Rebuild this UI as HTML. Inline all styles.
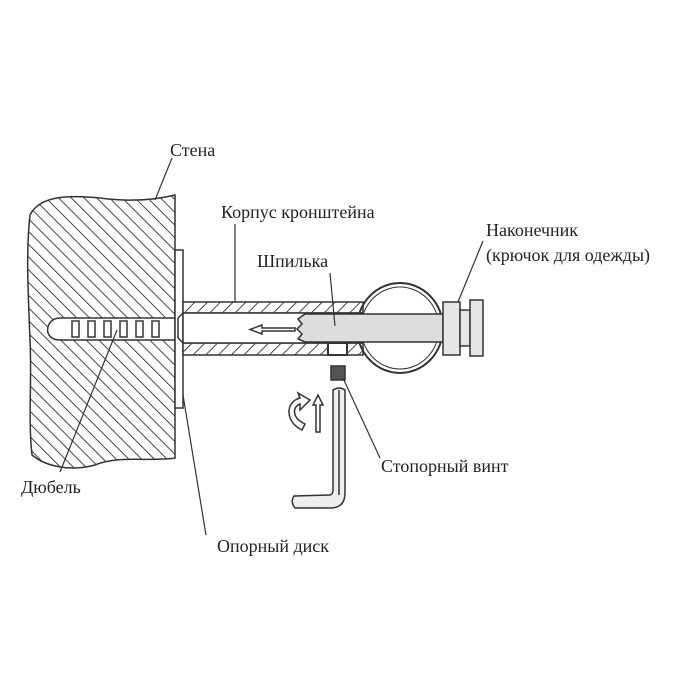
<!DOCTYPE html>
<html><head><meta charset="utf-8"><style>
html,body{margin:0;padding:0;background:#fff;}
svg{display:block;}
text{font-family:"Liberation Serif",serif;font-size:18px;fill:#222;}
</style></head><body>
<svg width="700" height="700" viewBox="0 0 700 700" xmlns="http://www.w3.org/2000/svg">
<defs>
<pattern id="h1" patternUnits="userSpaceOnUse" width="9" height="9" patternTransform="rotate(-45)">
<rect width="9" height="9" fill="#fff"/><line x1="0" y1="0" x2="0" y2="9" stroke="#333" stroke-width="1.8"/>
</pattern>
<pattern id="h2" patternUnits="userSpaceOnUse" width="9" height="9" patternTransform="rotate(45)">
<rect width="9" height="9" fill="#fff"/><line x1="0" y1="0" x2="0" y2="9" stroke="#333" stroke-width="1.8"/>
</pattern>
</defs>
<g stroke="#333" stroke-width="1.5" fill="none">
<path d="M175,195 L175,458 C150,462 120,455 95,465 C70,472 45,466 32,455 C28,420 32,380 30,340 C28,290 26,250 30,215 C40,195 70,195 100,198 C130,202 155,200 175,195 Z" fill="url(#h1)"/>
<path d="M175,318 L60,318 C45,318 42,340 60,340 L175,340 Z" fill="#fff"/>
<g fill="#fff">
<rect x="72" y="321" width="7" height="16"/><rect x="88" y="321" width="7" height="16"/><rect x="104" y="321" width="7" height="16"/>
<rect x="120" y="321" width="7" height="16"/><rect x="136" y="321" width="7" height="16"/><rect x="152" y="321" width="7" height="16"/>
</g>
<rect x="175" y="250" width="8" height="158" fill="#fff"/>
<rect x="183" y="302" width="180" height="11" fill="url(#h2)"/>
<rect x="183" y="343" width="180" height="12" fill="url(#h2)"/>
<rect x="183" y="313" width="180" height="30" fill="#fff"/>
<path d="M183,313 L178,318 L178,338 L183,343" />
<rect x="328" y="343" width="19" height="12" fill="#fff" stroke-width="2"/>
<ellipse cx="400" cy="328" rx="43" ry="45" fill="none" stroke-width="2"/>
<ellipse cx="400" cy="328" rx="39" ry="41" fill="none" stroke-width="1"/>
<path d="M443,314 L305,314 L298,319 L302,324 L297,329 L302,334 L298,339 L305,342 L443,342 Z" fill="#ddd"/>
<rect x="443" y="302" width="17" height="53" fill="#e6e6e6"/>
<rect x="460" y="310" width="10" height="36" fill="#e6e6e6"/>
<rect x="470" y="300" width="13" height="56" fill="#e6e6e6"/>
<path d="M295,328 L262,328 L262,325 L250,329.5 L262,334 L262,331 L295,331 Z" fill="#fff"/>
<rect x="331" y="366" width="14" height="14" fill="#555"/>
<path d="M333,390 Q339,386 345,390 L345,493 Q345,507 332,508 L295,508 Q290,502 294,496 L330,495 Q333,494 333,490 Z" fill="#eee"/>
<line x1="339" y1="390" x2="339" y2="495"/>
<path d="M316,432 L316,405 L313,405 L318,395 L323,405 L320,405 L320,432 Z" fill="#fff"/>
<path d="M302,430 C285,422 285,402 300,398 L298,393 L310,400 L300,410 L300,404 C292,407 292,418 305,424 Z" fill="#fff"/>
<g stroke-width="1.2">
<line x1="172" y1="158" x2="155" y2="200"/>
<line x1="235" y1="224" x2="235" y2="302"/>
<line x1="330" y1="273" x2="335" y2="326"/>
<line x1="483" y1="241" x2="458" y2="302"/>
<line x1="343" y1="378" x2="380" y2="458"/>
<line x1="117" y1="330" x2="60" y2="472"/>
<line x1="183" y1="395" x2="206" y2="535"/>
</g>
</g>
<text x="170" y="156">Стена</text>
<text x="221" y="218">Корпус кронштейна</text>
<text x="257" y="267">Шпилька</text>
<text x="486" y="236">Наконечник</text>
<text x="486" y="261">(крючок для одежды)</text>
<text x="381" y="472">Стопорный винт</text>
<text x="21" y="493">Дюбель</text>
<text x="217" y="552">Опорный диск</text>
</svg>
</body></html>
